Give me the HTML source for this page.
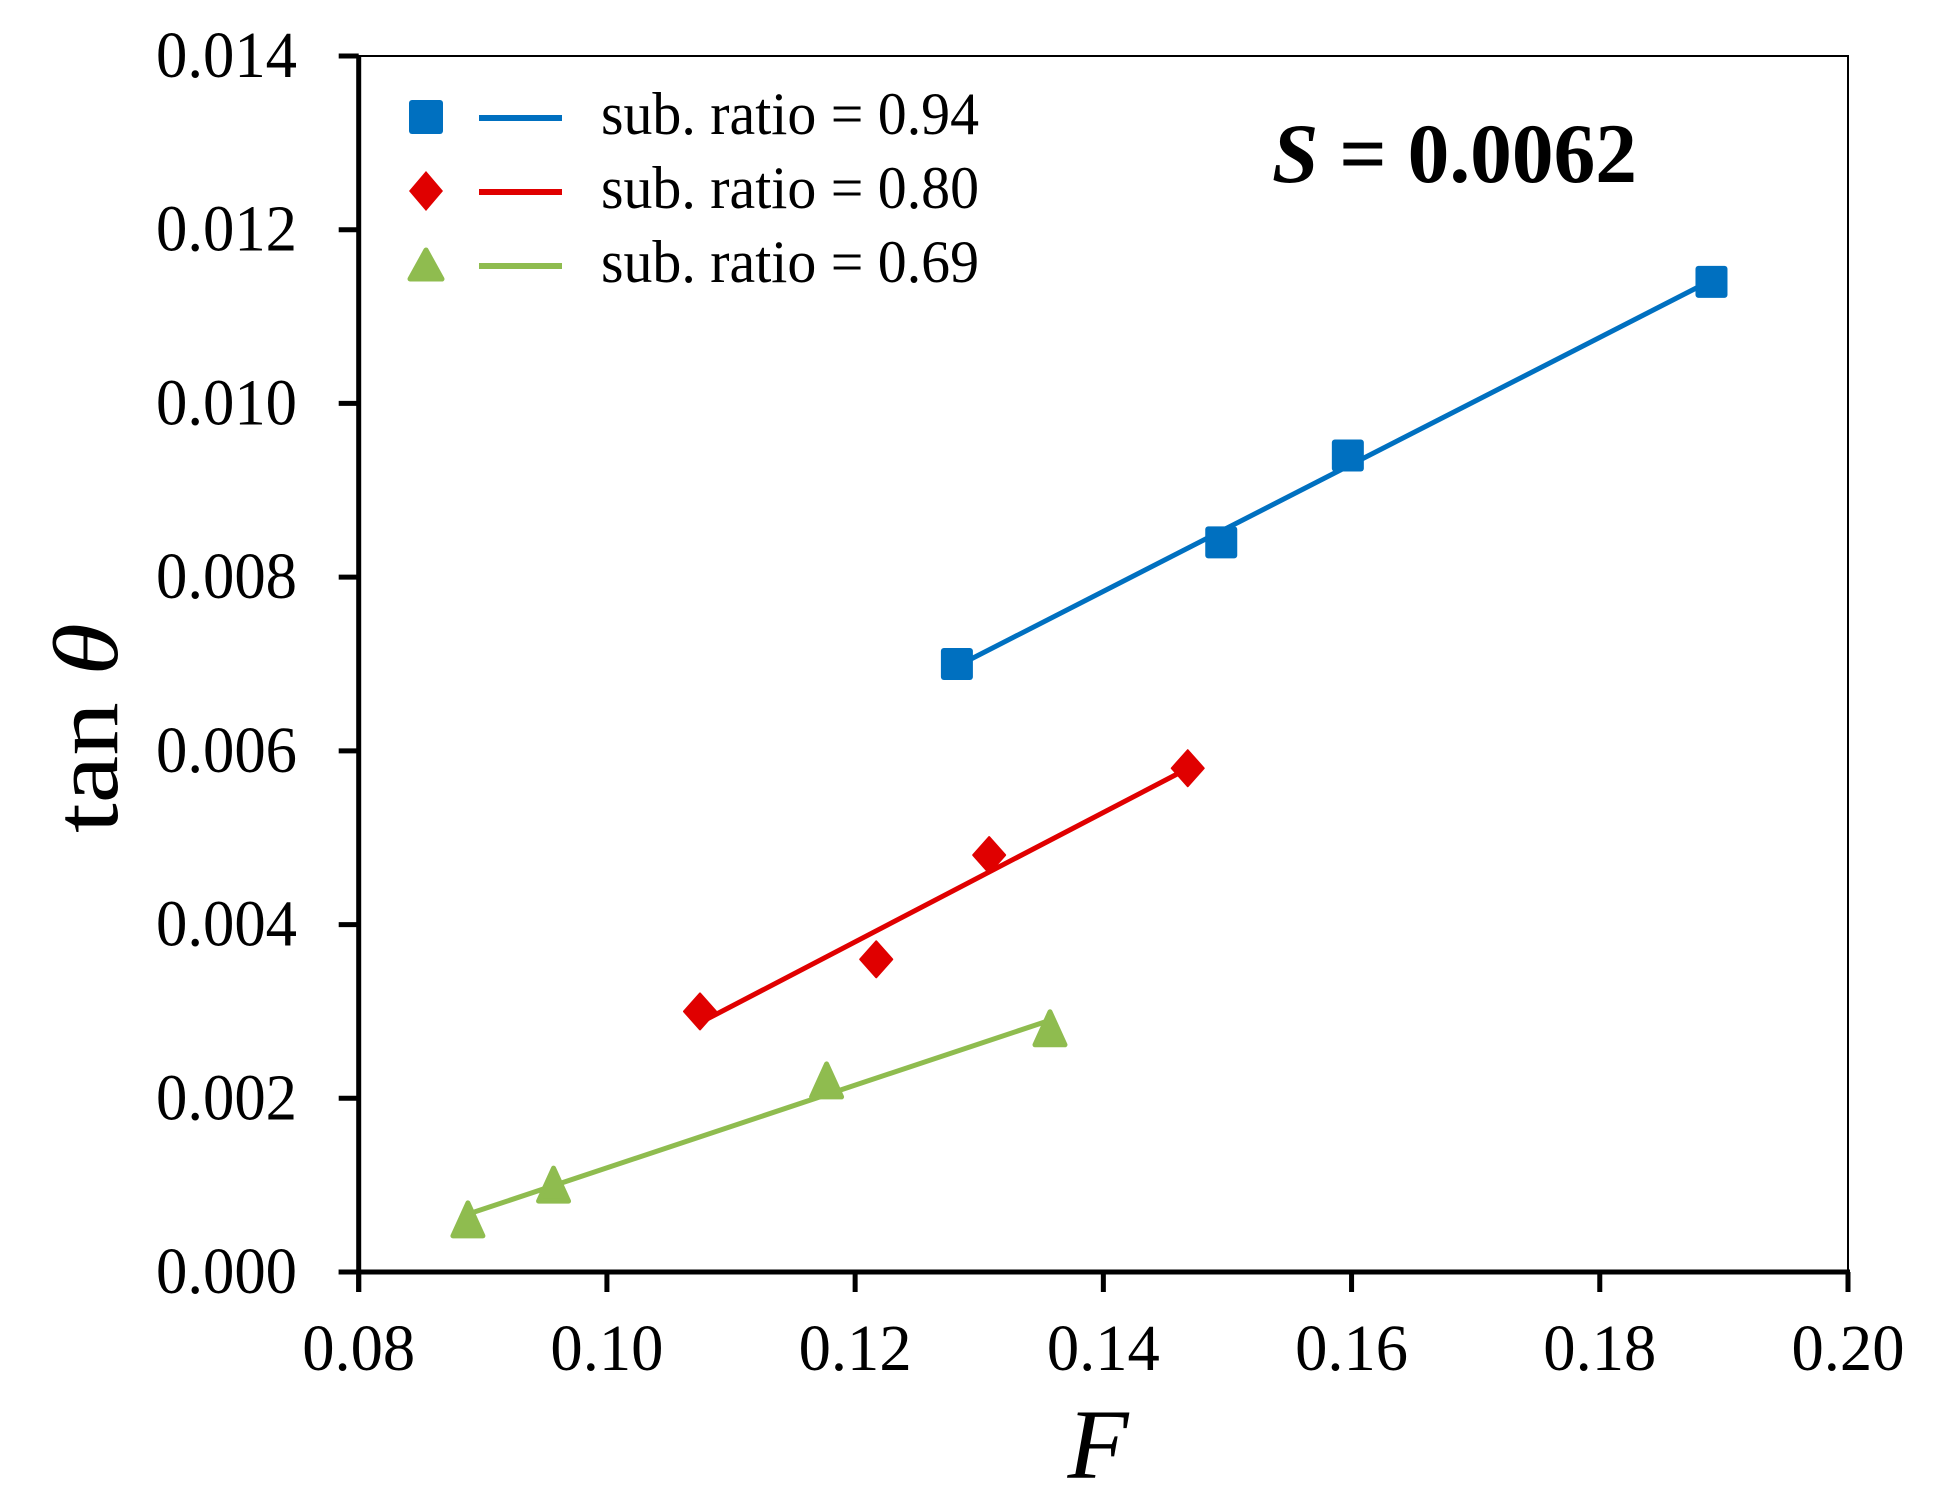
<!DOCTYPE html>
<html><head><meta charset="utf-8"><style>
html,body{margin:0;padding:0;background:#fff;}
svg{display:block;}
text{font-family:"Liberation Serif",serif;fill:#000;}
</style></head><body>
<svg id="chart" width="1935" height="1505" viewBox="0 0 1935 1505">
<rect x="0" y="0" width="1935" height="1505" fill="#fff"/>
<g id="plot"></g>
<g id="legend">
  <rect x="409" y="100" width="34" height="34" rx="3" fill="#0070C0"/>
  <line x1="479" y1="118" x2="562" y2="118" stroke="#0070C0" stroke-width="6"/>
  <text x="601" y="134" font-size="60" textLength="378" lengthAdjust="spacingAndGlyphs">sub. ratio = 0.94</text>
  <polygon points="426,171 443,191 426,211 409,191" fill="#E00000"/>
  <line x1="479" y1="192" x2="562" y2="192" stroke="#E00000" stroke-width="6"/>
  <text x="601" y="208" font-size="60" textLength="378" lengthAdjust="spacingAndGlyphs">sub. ratio = 0.80</text>
  <polygon points="426,250 442,279 410,279" fill="#8FBC4F" stroke="#8FBC4F" stroke-width="5" stroke-linejoin="round"/>
  <line x1="479" y1="266" x2="562" y2="266" stroke="#8FBC4F" stroke-width="6"/>
  <text x="601" y="282" font-size="60" textLength="378" lengthAdjust="spacingAndGlyphs">sub. ratio = 0.69</text>
</g>
<text x="1272" y="182" font-size="85" font-weight="bold" textLength="365" lengthAdjust="spacingAndGlyphs"><tspan font-style="italic">S</tspan> = 0.0062</text>
<text x="0" y="0" font-size="92" text-anchor="middle" textLength="210" lengthAdjust="spacingAndGlyphs" transform="translate(117,728) rotate(-90)">tan <tspan font-style="italic">θ</tspan></text>
<text x="1098" y="1478" font-size="100" font-style="italic" text-anchor="middle">F</text>
</svg>
<script>
const xTicks = [0.08, 0.10, 0.12, 0.14, 0.16, 0.18, 0.20];
const xTickLabels = ["0.08","0.10","0.12","0.14","0.16","0.18","0.20"];
const yTicks = [0, 0.002, 0.004, 0.006, 0.008, 0.010, 0.012, 0.014];
const yTickLabels = ["0.000","0.002","0.004","0.006","0.008","0.010","0.012","0.014"];
const blueX = [0.1282, 0.1495, 0.1597, 0.1890];
const blueY = [0.0070, 0.0084, 0.0094, 0.0114];
const redX = [0.1075, 0.1217, 0.1308, 0.1468];
const redY = [0.0030, 0.0036, 0.0048, 0.0058];
const greenX = [0.0888, 0.0957, 0.1177, 0.1357];
const greenY = [0.0006, 0.0010, 0.0022, 0.0028];

const X0 = 358.7, X1 = 1848, Y0 = 1272, Y1 = 56;
function sx(v){ return X0 + (v - 0.08) / 0.12 * (X1 - X0); }
function sy(v){ return Y0 - v / 0.014 * (Y0 - Y1); }
const NS = "http://www.w3.org/2000/svg";
const plot = document.getElementById('plot');
function mk(tag, attrs){ const e = document.createElementNS(NS, tag); for (const k in attrs) e.setAttribute(k, attrs[k]); plot.appendChild(e); return e; }

let fr = mk('rect', {x:X0, y:Y1, width:X1-X0, height:Y0-Y1, fill:'none', stroke:'#000', 'stroke-width':2});


let xa = mk('line', {x1:X0-20, y1:Y0, x2:X1+2, y2:Y0, stroke:'#000', 'stroke-width':5});


let ya = mk('line', {x1:X0, y1:Y1-1, x2:X0, y2:Y0+20, stroke:'#000', 'stroke-width':5});



xTicks.forEach((t, i) => {
  const x = sx(t);
  const tk = mk('line', {x1:x, y1:Y0, x2:x, y2:Y0+20, stroke:'#000', 'stroke-width':5});
  
  
  const lb = mk('text', {x:x, y:1370, 'font-size':66, 'text-anchor':'middle', textLength:113, lengthAdjust:'spacingAndGlyphs'});
  lb.textContent = xTickLabels[i];
  
  
});
yTicks.forEach((t, i) => {
  const y = sy(t);
  const tk = mk('line', {x1:X0-20, y1:y, x2:X0, y2:y, stroke:'#000', 'stroke-width':5});
  
  
  const lb = mk('text', {x:297, y:y+21, 'font-size':66, 'text-anchor':'end', textLength:141, lengthAdjust:'spacingAndGlyphs'});
  lb.textContent = yTickLabels[i];
  
  
});

function fit(xs, ys){
  const n = xs.length; let mx=0,my=0; for(let i=0;i<n;i++){mx+=xs[i];my+=ys[i];} mx/=n; my/=n;
  let a=0,b=0; for(let i=0;i<n;i++){a+=(xs[i]-mx)*(ys[i]-my); b+=(xs[i]-mx)*(xs[i]-mx);}
  const m=a/b; return [m, my-m*mx];
}
function series(xs, ys, color, shape, name){
  const [m, c] = fit(xs, ys);
  const xmin = Math.min(...xs), xmax = Math.max(...xs);
  const ln = mk('line', {x1:sx(xmin), y1:sy(m*xmin+c), x2:sx(xmax), y2:sy(m*xmax+c), stroke:color, 'stroke-width':5});
  
  
  xs.forEach((v, i) => {
    const px = sx(v), py = sy(ys[i]);
    let e;
    if (shape === 'square') e = mk('rect', {x:px-16, y:py-16, width:32, height:32, rx:3, fill:color});
    else if (shape === 'diamond') e = mk('polygon', {points:`${px},${py-18} ${px+16},${py} ${px},${py+18} ${px-16},${py}`, fill:color, stroke:color, 'stroke-width':2, 'stroke-linejoin':'round'});
    else e = mk('polygon', {points:`${px},${py-17} ${px+15},${py+16} ${px-15},${py+16}`, fill:color, stroke:color, 'stroke-width':5, 'stroke-linejoin':'round'});
    
    
  });
}
series(blueX, blueY, '#0070C0', 'square', 'series-094');
series(redX, redY, '#E00000', 'diamond', 'series-080');
series(greenX, greenY, '#8FBC4F', 'triangle', 'series-069');
</script>
</body></html>
